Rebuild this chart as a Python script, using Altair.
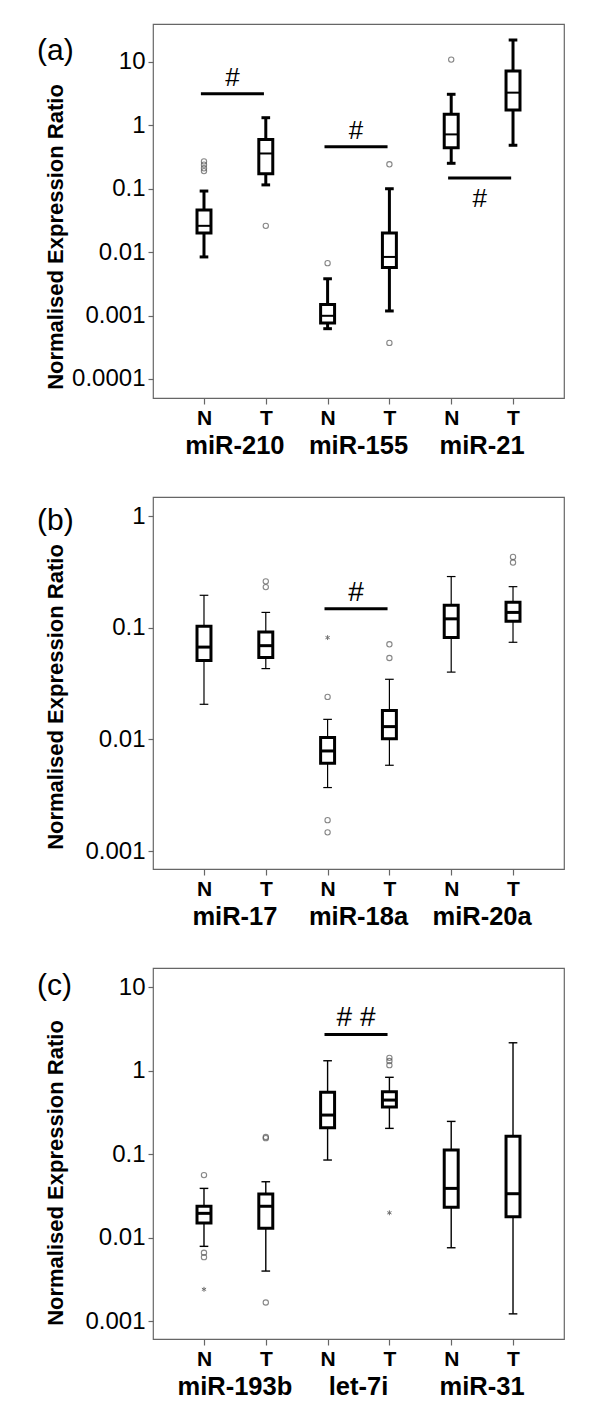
import altair as alt
import pandas as pd

FONT = "Liberation Sans"

# ---------------- Panel (a) ----------------
a_groups = ["miR-210", "miR-155", "miR-21"]
a_lo  = [0.0084, 0.115, 0.00062, 0.00118, 0.252, 0.485]
a_q1  = [0.020, 0.173, 0.00076, 0.0057, 0.445, 1.75]
a_med = [0.026, 0.36, 0.00099, 0.0084, 0.72, 3.28]
a_q3  = [0.046, 0.60, 0.00149, 0.020, 1.50, 7.2]
a_hi  = [0.092, 1.32, 0.0038, 0.10, 3.09, 22.2]
a_out_box = [1, 1, 1, 1, 2, 3, 4, 4, 5]
a_out_val = [0.27, 0.24, 0.21, 0.19, 0.026, 0.0067, 0.243, 0.00037, 10.9]
a_star_box = []
a_star_val = []
a_sig_pair = [0, 1, 2]
a_sig_val = [3.16, 0.46, 0.148]
a_sig_text = ["#", "#", "#"]
a_sig_below = [False, False, True]

# ---------------- Panel (b) ----------------
b_groups = ["miR-17", "miR-18a", "miR-20a"]
b_lo  = [0.0206, 0.043, 0.0037, 0.00586, 0.040, 0.074]
b_q1  = [0.0507, 0.054, 0.0061, 0.0101, 0.0815, 0.114]
b_med = [0.067, 0.069, 0.00787, 0.013, 0.12, 0.137]
b_q3  = [0.103, 0.0916, 0.0104, 0.0181, 0.159, 0.169]
b_hi  = [0.195, 0.137, 0.0151, 0.0345, 0.287, 0.233]
b_out_box = [2, 2, 3, 3, 3, 4, 4, 6, 6]
b_out_val = [0.26, 0.231, 0.024, 0.00189, 0.00147, 0.071, 0.0535, 0.43, 0.383]
b_star_box = [3]
b_star_val = [0.0815]
b_sig_pair = [1]
b_sig_val = [0.148]
b_sig_text = ["#"]
b_sig_below = [False]

# ---------------- Panel (c) ----------------
c_groups = ["miR-193b", "let-7i", "miR-31"]
c_lo  = [0.00785, 0.00397, 0.0848, 0.203, 0.00755, 0.00122]
c_q1  = [0.0149, 0.0129, 0.207, 0.366, 0.023, 0.0177]
c_med = [0.0195, 0.0237, 0.293, 0.443, 0.0388, 0.0335]
c_q3  = [0.0237, 0.0332, 0.548, 0.557, 0.112, 0.163]
c_hi  = [0.0388, 0.0466, 1.31, 0.83, 0.246, 2.15]
c_out_box = [1, 1, 1, 2, 2, 2, 4, 4, 4]
c_out_val = [0.056, 0.00658, 0.00583, 0.155, 0.16, 0.00167, 1.42, 1.30, 1.16]
c_star_box = [1, 4]
c_star_val = [0.0024, 0.0198]
c_sig_pair = [1]
c_sig_val = [2.71]
c_sig_text = ["# #"]
c_sig_below = [False]

ASTERISK = "M0,-1L0,1M-0.866,-0.5L0.866,0.5M-0.866,0.5L0.866,-0.5"
W = 411


def panel(tag, groups, lo, q1, med, q3, hi, out_box, out_val, star_box, star_val,
          sig_pair, sig_val, sig_text, sig_below, domain, yticks, height,
          whisker_w, med_w, tag_y, title_y, sig_size):
    xs = alt.Scale(domain=[0.175, 6.825], nice=False, zero=False)
    ys = alt.Scale(type="log", domain=domain, nice=False)
    xaxis = alt.Axis(values=[1, 2, 3, 4, 5, 6],
                     labelExpr="datum.value % 2 == 1 ? 'N' : 'T'",
                     title=None, grid=False, domain=False, tickSize=6,
                     tickColor="#666", tickWidth=1.2, labelFontSize=21,
                     labelFontWeight="bold", labelFont=FONT, labelColor="black",
                     labelPadding=3)
    yaxis = alt.Axis(values=yticks, format="~g", title=None, grid=False,
                     domain=False, tickSize=5, tickColor="#666", tickWidth=1.2,
                     labelFontSize=24, labelFont=FONT, labelColor="black",
                     labelPadding=3)

    box = pd.DataFrame({"box": list(range(1, 7)), "lo": lo, "q1": q1,
                        "med": med, "q3": q3, "hi": hi})
    base = alt.Chart(box).transform_calculate(
        bl="datum.box - 0.113", br="datum.box + 0.113",
        cl="datum.box - 0.07", cr="datum.box + 0.07")
    X = lambda f: alt.X(f, type="quantitative", scale=xs, axis=xaxis)
    Y = lambda f: alt.Y(f, type="quantitative", scale=ys, axis=yaxis)

    whisk = base.mark_rule(color="black", strokeWidth=whisker_w).encode(
        x=X("box"), y=Y("lo"), y2="hi")
    cap_lo = base.mark_rule(color="black", strokeWidth=whisker_w).encode(
        x=X("cl"), x2="cr", y=Y("lo"))
    cap_hi = base.mark_rule(color="black", strokeWidth=whisker_w).encode(
        x=X("cl"), x2="cr", y=Y("hi"))
    rect = base.mark_rect(fill="white", stroke="black", strokeWidth=3).encode(
        x=X("bl"), x2="br", y=Y("q1"), y2="q3")
    medl = base.mark_rule(color="black", strokeWidth=med_w).encode(
        x=X("bl"), x2="br", y=Y("med"))

    layers = [whisk, cap_lo, cap_hi, rect, medl]

    outs = pd.DataFrame({"box": out_box, "v": out_val})
    layers.append(alt.Chart(outs).mark_point(
        shape="circle", filled=False, size=28, color="#555", strokeWidth=1.1
    ).encode(x=X("box"), y=Y("v")))
    if star_box:
        stars = pd.DataFrame({"box": star_box, "v": star_val})
        layers.append(alt.Chart(stars).mark_point(
            shape=ASTERISK, filled=False, size=24, color="#333", strokeWidth=1
        ).encode(x=X("box"), y=Y("v")))

    sig = pd.DataFrame({"pair": sig_pair, "v": sig_val, "t": sig_text,
                        "below": sig_below})
    sigbase = alt.Chart(sig).transform_calculate(
        s="2 * datum.pair + 1 - 0.05", e="2 * datum.pair + 2 - 0.03")
    layers.append(sigbase.mark_rule(color="black", strokeWidth=3).encode(
        x=X("s"), x2="e", y=Y("v")))
    above = sig[~sig["below"]]
    below = sig[sig["below"]]
    if len(above):
        layers.append(alt.Chart(above).transform_calculate(
            m="2 * datum.pair + 1.46").mark_text(
            fontSize=sig_size, font=FONT, baseline="alphabetic", dy=-8,
            color="black").encode(x=X("m"), y=Y("v"), text="t:N"))
    if len(below):
        layers.append(alt.Chart(below).transform_calculate(
            m="2 * datum.pair + 1.46").mark_text(
            fontSize=sig_size, font=FONT, baseline="alphabetic", dy=29,
            color="black").encode(x=X("m"), y=Y("v"), text="t:N"))

    grp = pd.DataFrame({"gx": [1.5, 3.5, 5.5], "g": groups})
    layers.append(alt.Chart(grp).mark_text(
        fontSize=25.5, fontWeight="bold", font=FONT, baseline="alphabetic",
        color="black").encode(x=X("gx"), y=alt.value(height + 56), text="g:N"))

    tagdf = pd.DataFrame({"t": [tag]})
    layers.append(alt.Chart(tagdf).mark_text(
        fontSize=30, font=FONT, align="left", baseline="alphabetic",
        color="black").encode(x=alt.value(-116), y=alt.value(tag_y), text="t:N"))

    titledf = pd.DataFrame({"t": ["Normalised Expression Ratio"]})
    layers.append(alt.Chart(titledf).mark_text(
        fontSize=22, fontWeight="bold", font=FONT, align="center",
        baseline="middle", angle=270, color="black").encode(
        x=alt.value(-97), y=alt.value(title_y), text="t:N"))

    return alt.layer(*layers).properties(width=W, height=height)


pa = panel("(a)", a_groups, a_lo, a_q1, a_med, a_q3, a_hi, a_out_box, a_out_val,
           a_star_box, a_star_val, a_sig_pair, a_sig_val, a_sig_text, a_sig_below,
           [5.0e-5, 39.7], [0.0001, 0.001, 0.01, 0.1, 1, 10], 374,
           3, 2, 36, 213, 26)
pb = panel("(b)", b_groups, b_lo, b_q1, b_med, b_q3, b_hi, b_out_box, b_out_val,
           b_star_box, b_star_val, b_sig_pair, b_sig_val, b_sig_text, b_sig_below,
           [6.9e-4, 1.48], [0.001, 0.01, 0.1, 1], 372,
           1.2, 3, 33, 200, 28)
pc = panel("(c)", c_groups, c_lo, c_q1, c_med, c_q3, c_hi, c_out_box, c_out_val,
           c_star_box, c_star_val, c_sig_pair, c_sig_val, c_sig_text, c_sig_below,
           [6.1e-4, 16.9], [0.001, 0.01, 0.1, 1, 10], 371,
           1.4, 3, 27, 205, 28)

chart = alt.vconcat(pa, pb, pc, spacing=99, bounds="flush").properties(
    padding={"left": 28, "top": 15, "right": 5, "bottom": 5}
).configure_view(stroke="#666", strokeWidth=1.2)

chart.save("out.html", embed_options={"renderer": "svg", "actions": False})
